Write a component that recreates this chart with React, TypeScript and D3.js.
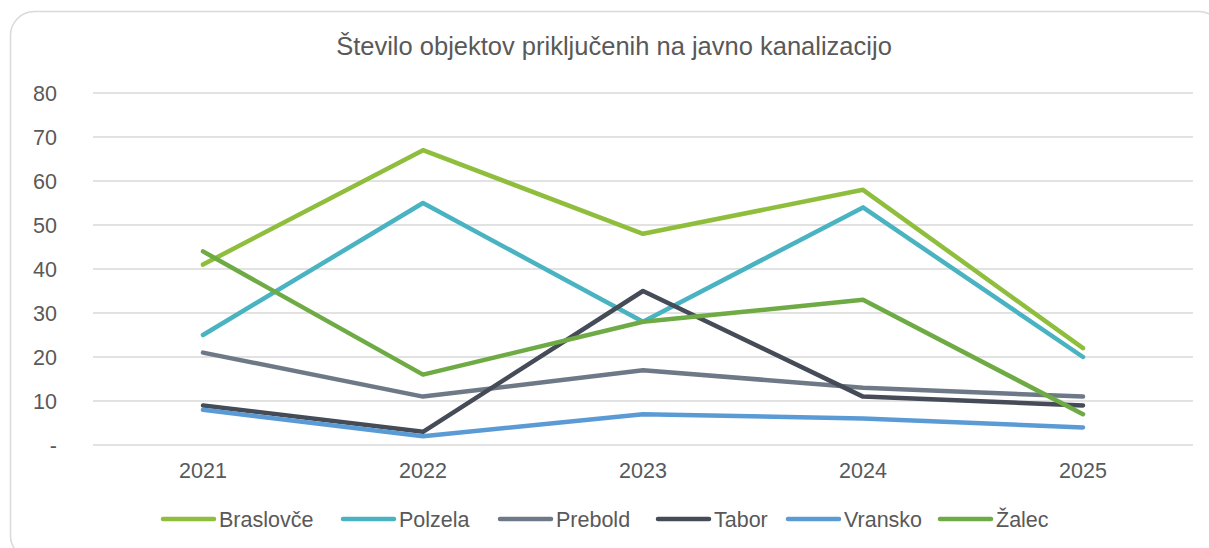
import React from "react";
import * as d3 from "d3";

const years = ["2021", "2022", "2023", "2024", "2025"];
const seriesNames = ["Braslovče", "Polzela", "Prebold", "Tabor", "Vransko", "Žalec"];
const braslovce = [41, 67, 48, 58, 22];
const polzela = [25, 55, 28, 54, 20];
const prebold = [21, 11, 17, 13, 11];
const tabor = [9, 3, 35, 11, 9];
const vransko = [8, 2, 7, 6, 4];
const zalec = [44, 16, 28, 33, 7];
const colors = ["#8FBD3C", "#4AB3C2", "#6E7987", "#454C57", "#5B9BD5", "#6EAB45"];
const yTicks = [0, 10, 20, 30, 40, 50, 60, 70, 80];
const legendX = [161, 341, 498, 656, 786, 938];

const W = 1209;
const H = 548;
const FONT = "'Liberation Sans', Arial, sans-serif";

export default function App() {
  const allSeries = [braslovce, polzela, prebold, tabor, vransko, zalec];
  const x = d3.scaleBand<string>().domain(years).range([93, 1193]);
  const y = d3.scaleLinear().domain([0, 80]).range([445, 93]);
  const line = d3
    .line<number>()
    .x((_, i) => (x(years[i]) as number) + x.bandwidth() / 2)
    .y((d) => y(d));

  return (
    <svg
      width={W}
      height={H}
      style={{ position: "absolute", left: 0, top: 0, display: "block", background: "#fff" }}
    >
      <rect x={0} y={0} width={W} height={H} fill="#fff" />
      <rect
        x={10.5}
        y={11.5}
        width={1212}
        height={548}
        rx={24}
        ry={24}
        fill="#fff"
        stroke="#D9D9D9"
        strokeWidth={1.5}
      />
      <text
        x={614}
        y={55}
        textAnchor="middle"
        fontFamily={FONT}
        fontSize={25.5}
        fill="#595959"
      >
        Število objektov priključenih na javno kanalizacijo
      </text>
      {yTicks.map((t) => (
        <g key={t}>
          <line x1={93} x2={1193} y1={y(t)} y2={y(t)} stroke="#D9D9D9" strokeWidth={1.3} />
          <text
            x={57}
            y={y(t) + 7.5}
            textAnchor="end"
            fontFamily={FONT}
            fontSize={21.5}
            fill="#595959"
          >
            {t === 0 ? "-" : t}
          </text>
        </g>
      ))}
      {years.map((yr) => (
        <text
          key={yr}
          x={(x(yr) as number) + x.bandwidth() / 2}
          y={478}
          textAnchor="middle"
          fontFamily={FONT}
          fontSize={21.5}
          fill="#595959"
        >
          {yr}
        </text>
      ))}
      {allSeries.map((s, i) => (
        <path
          key={seriesNames[i]}
          d={line(s) || ""}
          fill="none"
          stroke={colors[i]}
          strokeWidth={4.5}
          strokeLinecap="round"
          strokeLinejoin="round"
        />
      ))}
      {seriesNames.map((n, i) => (
        <g key={n}>
          <line
            x1={legendX[i] + 2}
            x2={legendX[i] + 53}
            y1={519}
            y2={519}
            stroke={colors[i]}
            strokeWidth={4.5}
            strokeLinecap="round"
          />
          <text
            x={legendX[i] + 58}
            y={527}
            fontFamily={FONT}
            fontSize={21.5}
            fill="#595959"
          >
            {n}
          </text>
        </g>
      ))}
    </svg>
  );
}
